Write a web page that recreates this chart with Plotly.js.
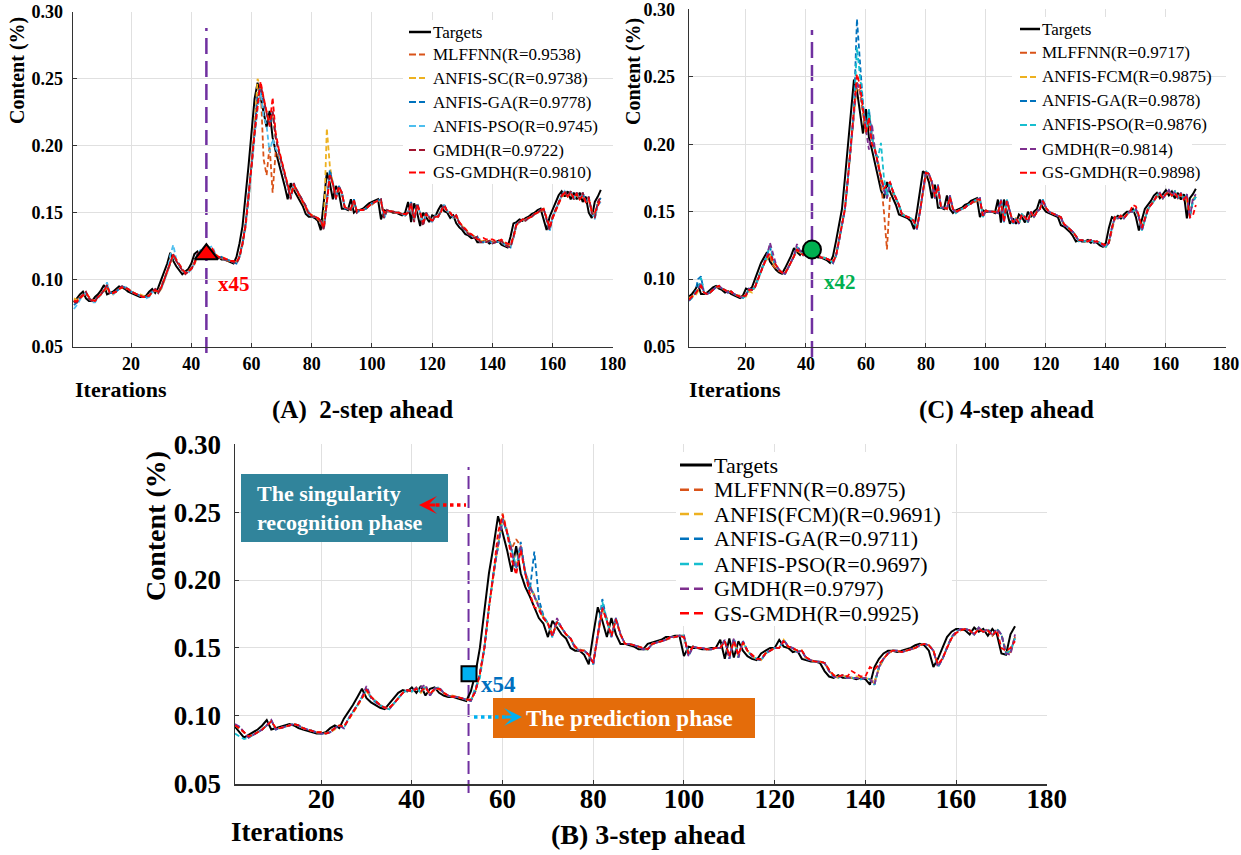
<!DOCTYPE html>
<html><head><meta charset="utf-8">
<script src="https://cdn.plot.ly/plotly-3.0.1.min.js"></script>
<style>html,body{margin:0;padding:0;background:#fff}#chart{width:1241px;height:855px}</style>
</head><body><div id="chart"></div>
<script>
// ---------------- DATA ----------------
const xTicks = [20, 40, 60, 80, 100, 120, 140, 160, 180];
const yTicks = [0.05, 0.10, 0.15, 0.20, 0.25, 0.30];

// (A) 2-step ahead
const namesA = ['Targets','MLFFNN(R=0.9538)','ANFIS-SC(R=0.9738)','ANFIS-GA(R=0.9778)','ANFIS-PSO(R=0.9745)','GMDH(R=0.9722)','GS-GMDH(R=0.9810)'];
const targetsA = [0.083,0.086,0.089,0.091,0.086,0.084,0.084,0.087,0.089,0.092,
0.096,0.089,0.090,0.091,0.093,0.095,0.094,0.093,0.091,0.090,
0.089,0.088,0.087,0.087,0.088,0.091,0.093,0.090,0.094,0.100,
0.106,0.112,0.120,0.114,0.110,0.107,0.104,0.106,0.108,0.112,
0.119,0.121,0.117,0.121,0.119,0.122,0.118,0.116,0.117,0.115,
0.115,0.114,0.113,0.112,0.117,0.127,0.140,0.160,0.185,0.210,
0.235,0.247,0.236,0.226,0.214,0.226,0.206,0.196,0.188,0.179,
0.170,0.160,0.172,0.167,0.163,0.159,0.155,0.149,0.147,0.147,
0.146,0.144,0.137,0.158,0.180,0.172,0.160,0.170,0.165,0.153,
0.153,0.152,0.160,0.150,0.152,0.152,0.153,0.155,0.157,0.158,
0.159,0.160,0.145,0.152,0.151,0.151,0.150,0.150,0.149,0.148,
0.150,0.158,0.143,0.157,0.150,0.140,0.150,0.146,0.143,0.148,
0.147,0.152,0.156,0.151,0.150,0.146,0.148,0.142,0.139,0.137,
0.134,0.133,0.131,0.132,0.128,0.128,0.128,0.129,0.127,0.128,
0.128,0.129,0.126,0.125,0.124,0.132,0.142,0.143,0.145,0.144,
0.146,0.147,0.149,0.150,0.152,0.153,0.145,0.137,0.147,0.152,
0.158,0.163,0.166,0.162,0.166,0.160,0.165,0.160,0.165,0.158,
0.162,0.150,0.146,0.158,0.162,0.167];
const mlffnnA = [0.085,0.083,0.087,0.089,0.090,0.087,0.084,0.085,0.087,0.090,
0.092,0.095,0.090,0.090,0.092,0.093,0.095,0.094,0.092,0.091,
0.090,0.089,0.088,0.088,0.087,0.089,0.091,0.092,0.091,0.095,
0.101,0.107,0.113,0.118,0.114,0.110,0.107,0.105,0.106,0.109,
0.113,0.118,0.121,0.118,0.120,0.120,0.121,0.118,0.116,0.116,
0.115,0.114,0.114,0.113,0.113,0.118,0.128,0.142,0.162,0.188,
0.212,0.240,0.245,0.190,0.178,0.200,0.165,0.195,0.192,0.186,
0.178,0.170,0.162,0.170,0.166,0.162,0.158,0.154,0.149,0.148,
0.147,0.145,0.143,0.138,0.158,0.178,0.171,0.161,0.168,0.164,
0.154,0.153,0.153,0.158,0.151,0.152,0.152,0.153,0.155,0.156,
0.158,0.159,0.159,0.147,0.151,0.151,0.150,0.150,0.150,0.149,
0.148,0.150,0.157,0.145,0.155,0.150,0.142,0.149,0.146,0.144,
0.147,0.147,0.151,0.155,0.151,0.150,0.147,0.147,0.143,0.140,
0.138,0.135,0.133,0.132,0.131,0.129,0.129,0.128,0.129,0.128,
0.128,0.128,0.129,0.127,0.126,0.125,0.131,0.141,0.143,0.145,
0.145,0.146,0.147,0.149,0.150,0.151,0.152,0.146,0.139,0.146,
0.151,0.157,0.162,0.164,0.162,0.165,0.161,0.163,0.160,0.163,
0.158,0.160,0.151,0.148,0.156,0.160];
const anfisScA = [0.086,0.085,0.086,0.088,0.090,0.087,0.085,0.084,0.086,0.089,
0.091,0.095,0.090,0.089,0.091,0.093,0.094,0.094,0.093,0.092,
0.090,0.089,0.089,0.088,0.087,0.088,0.090,0.092,0.090,0.093,
0.099,0.105,0.111,0.118,0.115,0.111,0.108,0.105,0.106,0.108,
0.111,0.117,0.120,0.118,0.120,0.119,0.121,0.119,0.117,0.117,
0.116,0.115,0.114,0.114,0.113,0.116,0.126,0.139,0.158,0.184,
0.212,0.250,0.244,0.234,0.225,0.216,0.224,0.207,0.197,0.189,
0.180,0.171,0.162,0.171,0.167,0.163,0.159,0.155,0.150,0.148,
0.147,0.146,0.144,0.139,0.213,0.185,0.172,0.161,0.169,0.164,
0.154,0.153,0.152,0.159,0.151,0.152,0.152,0.153,0.155,0.157,
0.158,0.159,0.159,0.146,0.152,0.151,0.151,0.150,0.150,0.149,
0.148,0.150,0.157,0.144,0.156,0.150,0.141,0.150,0.146,0.144,
0.148,0.147,0.152,0.155,0.151,0.150,0.146,0.148,0.142,0.140,
0.138,0.135,0.134,0.132,0.131,0.129,0.129,0.129,0.129,0.128,
0.128,0.128,0.129,0.127,0.126,0.125,0.132,0.141,0.143,0.145,
0.144,0.146,0.147,0.149,0.150,0.152,0.153,0.145,0.138,0.147,
0.152,0.157,0.162,0.165,0.162,0.165,0.160,0.164,0.160,0.164,
0.158,0.161,0.151,0.147,0.157,0.161];
const anfisGaA = [0.081,0.083,0.086,0.089,0.090,0.086,0.084,0.085,0.087,0.089,
0.092,0.096,0.090,0.090,0.091,0.093,0.095,0.094,0.093,0.091,
0.090,0.089,0.088,0.087,0.087,0.088,0.091,0.093,0.090,0.094,
0.100,0.106,0.113,0.118,0.114,0.110,0.107,0.105,0.106,0.108,
0.112,0.119,0.121,0.117,0.122,0.119,0.122,0.118,0.116,0.117,
0.115,0.115,0.114,0.113,0.112,0.117,0.127,0.141,0.161,0.186,
0.211,0.238,0.243,0.232,0.224,0.215,0.225,0.207,0.196,0.188,
0.179,0.170,0.161,0.172,0.167,0.163,0.159,0.155,0.149,0.147,
0.147,0.146,0.144,0.138,0.160,0.182,0.172,0.160,0.170,0.165,
0.153,0.153,0.152,0.160,0.150,0.152,0.152,0.153,0.155,0.157,
0.158,0.159,0.160,0.146,0.152,0.151,0.151,0.150,0.150,0.149,
0.148,0.150,0.158,0.144,0.157,0.150,0.141,0.150,0.146,0.143,
0.148,0.147,0.152,0.156,0.151,0.150,0.146,0.148,0.142,0.139,
0.137,0.134,0.133,0.131,0.132,0.128,0.128,0.128,0.129,0.127,
0.128,0.128,0.129,0.126,0.125,0.124,0.133,0.142,0.143,0.145,
0.144,0.146,0.147,0.149,0.150,0.152,0.153,0.145,0.137,0.147,
0.152,0.158,0.163,0.166,0.162,0.166,0.160,0.165,0.160,0.165,
0.158,0.162,0.150,0.146,0.158,0.161];
const anfisPsoA = [0.078,0.081,0.085,0.088,0.090,0.086,0.083,0.083,0.086,0.089,
0.092,0.098,0.090,0.089,0.091,0.093,0.095,0.095,0.093,0.091,
0.090,0.089,0.088,0.087,0.086,0.087,0.090,0.093,0.090,0.093,
0.099,0.105,0.118,0.126,0.115,0.111,0.108,0.105,0.105,0.108,
0.112,0.120,0.122,0.118,0.121,0.124,0.125,0.119,0.116,0.117,
0.115,0.115,0.114,0.113,0.112,0.116,0.126,0.139,0.158,0.183,
0.208,0.228,0.240,0.222,0.215,0.195,0.205,0.198,0.194,0.187,
0.178,0.170,0.161,0.171,0.167,0.163,0.159,0.155,0.150,0.147,
0.147,0.146,0.144,0.138,0.157,0.178,0.173,0.161,0.169,0.165,
0.154,0.153,0.152,0.159,0.151,0.152,0.152,0.153,0.155,0.157,
0.158,0.159,0.159,0.146,0.151,0.151,0.151,0.150,0.150,0.149,
0.148,0.150,0.157,0.144,0.156,0.150,0.141,0.150,0.147,0.143,
0.148,0.147,0.152,0.156,0.151,0.150,0.146,0.148,0.142,0.139,
0.137,0.134,0.133,0.131,0.132,0.128,0.128,0.128,0.129,0.127,
0.128,0.128,0.129,0.126,0.125,0.124,0.131,0.141,0.143,0.145,
0.144,0.146,0.147,0.149,0.150,0.152,0.153,0.145,0.136,0.146,
0.152,0.158,0.163,0.166,0.162,0.166,0.160,0.165,0.160,0.164,
0.158,0.161,0.150,0.145,0.156,0.158];
const gmdhA = [0.083,0.083,0.086,0.089,0.091,0.086,0.084,0.084,0.087,0.089,
0.092,0.096,0.089,0.090,0.091,0.093,0.095,0.094,0.093,0.091,
0.090,0.089,0.088,0.087,0.087,0.088,0.091,0.093,0.090,0.094,
0.100,0.106,0.112,0.119,0.114,0.110,0.107,0.104,0.106,0.108,
0.112,0.119,0.121,0.117,0.121,0.121,0.122,0.118,0.116,0.117,
0.115,0.115,0.114,0.113,0.112,0.117,0.127,0.140,0.160,0.185,
0.210,0.232,0.246,0.236,0.226,0.214,0.226,0.206,0.196,0.188,
0.179,0.170,0.160,0.172,0.167,0.163,0.159,0.155,0.149,0.147,
0.147,0.146,0.144,0.137,0.158,0.179,0.172,0.160,0.170,0.165,
0.153,0.153,0.152,0.160,0.150,0.152,0.152,0.153,0.155,0.157,
0.158,0.159,0.160,0.146,0.152,0.151,0.151,0.150,0.150,0.149,
0.148,0.150,0.158,0.143,0.157,0.150,0.140,0.150,0.146,0.143,
0.148,0.147,0.152,0.156,0.151,0.150,0.146,0.148,0.142,0.139,
0.137,0.134,0.133,0.131,0.132,0.128,0.128,0.128,0.129,0.127,
0.128,0.128,0.129,0.126,0.125,0.124,0.132,0.142,0.143,0.145,
0.144,0.146,0.147,0.149,0.150,0.152,0.153,0.145,0.137,0.147,
0.152,0.158,0.163,0.166,0.162,0.166,0.160,0.165,0.160,0.165,
0.158,0.162,0.150,0.146,0.158,0.162];
const gsGmdhA = [0.084,0.084,0.086,0.088,0.090,0.087,0.085,0.084,0.087,0.089,
0.092,0.095,0.090,0.090,0.091,0.093,0.094,0.094,0.093,0.091,
0.090,0.089,0.088,0.087,0.087,0.088,0.091,0.092,0.091,0.094,
0.100,0.106,0.112,0.119,0.115,0.111,0.108,0.105,0.106,0.108,
0.112,0.118,0.121,0.118,0.121,0.120,0.123,0.119,0.117,0.117,
0.116,0.115,0.114,0.114,0.113,0.117,0.127,0.140,0.160,0.185,
0.209,0.228,0.248,0.236,0.226,0.215,0.236,0.210,0.198,0.189,
0.180,0.171,0.162,0.171,0.167,0.163,0.159,0.155,0.150,0.148,
0.147,0.146,0.144,0.139,0.157,0.178,0.172,0.161,0.169,0.165,
0.154,0.153,0.153,0.159,0.151,0.152,0.152,0.153,0.155,0.157,
0.158,0.159,0.158,0.150,0.152,0.151,0.151,0.150,0.150,0.149,
0.149,0.150,0.156,0.146,0.155,0.150,0.143,0.149,0.146,0.144,
0.147,0.147,0.151,0.155,0.151,0.150,0.147,0.148,0.143,0.140,
0.138,0.135,0.134,0.132,0.130,0.130,0.131,0.130,0.130,0.130,
0.129,0.129,0.130,0.128,0.127,0.126,0.132,0.141,0.143,0.145,
0.145,0.146,0.147,0.149,0.150,0.152,0.153,0.146,0.139,0.146,
0.151,0.157,0.162,0.165,0.162,0.165,0.161,0.164,0.160,0.163,
0.158,0.160,0.151,0.150,0.155,0.160];
const markerAX = [45], markerAY = [0.119];

// (C) 4-step ahead
const namesC = ['Targets','MLFFNN(R=0.9717)','ANFIS-FCM(R=0.9875)','ANFIS-GA(R=0.9878)','ANFIS-PSO(R=0.9876)','GMDH(R=0.9814)','GS-GMDH(R=0.9898)'];
const targetsC = [0.087,0.089,0.092,0.096,0.089,0.089,0.090,0.092,0.094,0.095,
0.093,0.092,0.090,0.091,0.089,0.088,0.087,0.086,0.088,0.093,
0.092,0.094,0.100,0.106,0.112,0.116,0.120,0.113,0.110,0.107,
0.105,0.104,0.108,0.112,0.117,0.123,0.120,0.118,0.122,0.120,
0.119,0.121,0.118,0.116,0.116,0.115,0.114,0.112,0.117,0.128,
0.140,0.152,0.175,0.200,0.225,0.248,0.240,0.225,0.208,0.226,
0.205,0.196,0.185,0.176,0.166,0.160,0.172,0.165,0.160,0.155,
0.148,0.147,0.146,0.145,0.143,0.137,0.150,0.165,0.180,0.178,
0.172,0.160,0.170,0.153,0.153,0.152,0.162,0.152,0.149,0.151,
0.152,0.153,0.155,0.156,0.158,0.159,0.160,0.146,0.151,0.150,
0.150,0.150,0.149,0.159,0.142,0.159,0.150,0.141,0.145,0.141,
0.148,0.146,0.142,0.150,0.146,0.150,0.152,0.159,0.153,0.150,
0.149,0.148,0.147,0.146,0.140,0.139,0.137,0.135,0.132,0.128,
0.129,0.128,0.128,0.129,0.127,0.128,0.127,0.125,0.124,0.127,
0.138,0.146,0.145,0.147,0.145,0.148,0.150,0.150,0.152,0.146,
0.136,0.145,0.152,0.155,0.158,0.162,0.164,0.160,0.163,0.166,
0.162,0.165,0.160,0.164,0.159,0.163,0.145,0.160,0.163,0.167];
const mlffnnC = [0.086,0.087,0.090,0.092,0.095,0.090,0.089,0.090,0.092,0.094,
0.094,0.093,0.092,0.091,0.090,0.089,0.088,0.087,0.087,0.089,
0.092,0.092,0.095,0.101,0.107,0.112,0.115,0.117,0.110,0.108,
0.106,0.105,0.105,0.108,0.112,0.116,0.121,0.120,0.118,0.121,
0.120,0.119,0.120,0.118,0.116,0.116,0.115,0.114,0.113,0.118,
0.129,0.141,0.153,0.176,0.201,0.226,0.246,0.238,0.224,0.208,
0.222,0.205,0.196,0.188,0.172,0.150,0.122,0.160,0.164,0.160,
0.155,0.149,0.147,0.146,0.145,0.143,0.138,0.150,0.164,0.178,
0.177,0.171,0.161,0.168,0.154,0.153,0.152,0.160,0.152,0.150,
0.151,0.152,0.153,0.155,0.156,0.157,0.158,0.159,0.147,0.151,
0.150,0.150,0.150,0.149,0.157,0.144,0.157,0.150,0.142,0.145,
0.142,0.147,0.146,0.143,0.149,0.146,0.150,0.152,0.158,0.153,
0.150,0.149,0.148,0.147,0.146,0.141,0.139,0.137,0.135,0.132,
0.129,0.129,0.128,0.128,0.129,0.127,0.128,0.127,0.126,0.125,
0.127,0.137,0.145,0.145,0.147,0.145,0.148,0.150,0.150,0.151,
0.146,0.138,0.145,0.151,0.155,0.158,0.161,0.163,0.160,0.163,
0.165,0.162,0.164,0.160,0.163,0.159,0.162,0.147,0.158,0.162];
const anfisFcmC = [0.086,0.087,0.087,0.091,0.095,0.090,0.089,0.090,0.092,0.094,
0.095,0.093,0.092,0.090,0.091,0.089,0.088,0.088,0.087,0.087,
0.091,0.090,0.094,0.100,0.106,0.111,0.115,0.119,0.113,0.109,
0.107,0.105,0.104,0.108,0.112,0.117,0.122,0.120,0.118,0.121,
0.120,0.119,0.121,0.118,0.116,0.116,0.115,0.114,0.112,0.117,
0.128,0.140,0.152,0.175,0.200,0.225,0.245,0.240,0.225,0.208,
0.225,0.205,0.196,0.185,0.176,0.167,0.161,0.171,0.165,0.160,
0.155,0.148,0.147,0.146,0.145,0.143,0.138,0.150,0.164,0.179,
0.178,0.171,0.160,0.169,0.154,0.153,0.152,0.161,0.152,0.150,
0.151,0.152,0.153,0.155,0.156,0.158,0.159,0.159,0.147,0.151,
0.150,0.150,0.150,0.149,0.158,0.143,0.158,0.150,0.142,0.145,
0.141,0.148,0.146,0.142,0.149,0.146,0.150,0.152,0.158,0.153,
0.150,0.149,0.148,0.147,0.146,0.140,0.139,0.137,0.135,0.132,
0.128,0.129,0.128,0.128,0.129,0.127,0.128,0.127,0.125,0.124,
0.127,0.137,0.146,0.145,0.147,0.145,0.148,0.150,0.150,0.152,
0.146,0.137,0.145,0.152,0.155,0.158,0.162,0.164,0.160,0.163,
0.166,0.162,0.165,0.160,0.164,0.159,0.158,0.147,0.159,0.162];
const anfisGaC = [0.084,0.087,0.089,0.100,0.102,0.090,0.089,0.090,0.092,0.094,
0.095,0.093,0.092,0.090,0.091,0.089,0.088,0.087,0.086,0.088,
0.093,0.092,0.094,0.100,0.106,0.112,0.117,0.124,0.114,0.110,
0.107,0.105,0.104,0.108,0.112,0.117,0.124,0.121,0.118,0.122,
0.120,0.119,0.121,0.118,0.116,0.116,0.115,0.114,0.112,0.117,
0.128,0.140,0.152,0.175,0.200,0.225,0.293,0.262,0.230,0.210,
0.226,0.205,0.195,0.185,0.176,0.166,0.160,0.172,0.165,0.160,
0.155,0.148,0.147,0.146,0.145,0.143,0.137,0.150,0.165,0.180,
0.178,0.172,0.160,0.170,0.153,0.153,0.152,0.162,0.152,0.149,
0.151,0.152,0.153,0.155,0.156,0.158,0.159,0.160,0.146,0.151,
0.150,0.150,0.150,0.149,0.159,0.142,0.159,0.150,0.141,0.145,
0.141,0.148,0.146,0.142,0.150,0.146,0.150,0.152,0.159,0.153,
0.150,0.149,0.148,0.147,0.146,0.140,0.139,0.137,0.135,0.132,
0.128,0.129,0.128,0.128,0.129,0.127,0.128,0.127,0.125,0.124,
0.127,0.138,0.146,0.145,0.147,0.145,0.148,0.150,0.150,0.152,
0.146,0.136,0.145,0.152,0.155,0.158,0.162,0.164,0.160,0.163,
0.166,0.162,0.165,0.160,0.164,0.159,0.163,0.146,0.158,0.161];
const anfisPsoC = [0.084,0.086,0.089,0.093,0.101,0.090,0.089,0.090,0.092,0.094,
0.095,0.093,0.092,0.090,0.091,0.089,0.088,0.087,0.086,0.088,
0.093,0.092,0.094,0.100,0.106,0.112,0.117,0.126,0.115,0.110,
0.107,0.105,0.104,0.108,0.112,0.117,0.124,0.121,0.118,0.122,
0.120,0.119,0.121,0.118,0.116,0.116,0.115,0.114,0.112,0.117,
0.128,0.140,0.152,0.175,0.200,0.225,0.272,0.250,0.226,0.209,
0.226,0.205,0.196,0.190,0.201,0.175,0.162,0.172,0.165,0.160,
0.155,0.148,0.147,0.146,0.145,0.143,0.137,0.150,0.165,0.180,
0.178,0.172,0.160,0.170,0.153,0.153,0.152,0.162,0.152,0.149,
0.151,0.152,0.153,0.155,0.156,0.158,0.159,0.160,0.146,0.151,
0.150,0.150,0.150,0.149,0.159,0.142,0.159,0.150,0.141,0.145,
0.141,0.148,0.146,0.142,0.150,0.146,0.150,0.152,0.159,0.153,
0.150,0.149,0.148,0.147,0.146,0.140,0.139,0.137,0.135,0.132,
0.128,0.129,0.128,0.128,0.129,0.127,0.128,0.127,0.125,0.124,
0.127,0.138,0.146,0.145,0.147,0.145,0.148,0.150,0.150,0.152,
0.146,0.136,0.145,0.152,0.155,0.158,0.162,0.164,0.160,0.163,
0.166,0.162,0.165,0.160,0.164,0.159,0.163,0.148,0.157,0.161];
const gmdhC = [0.084,0.087,0.089,0.092,0.097,0.090,0.089,0.090,0.092,0.094,
0.095,0.093,0.092,0.090,0.091,0.089,0.088,0.087,0.086,0.088,
0.093,0.092,0.094,0.100,0.106,0.112,0.117,0.127,0.118,0.111,
0.107,0.105,0.104,0.108,0.112,0.117,0.126,0.121,0.118,0.122,
0.120,0.119,0.121,0.118,0.116,0.116,0.115,0.114,0.112,0.117,
0.128,0.140,0.152,0.175,0.200,0.225,0.246,0.240,0.225,0.208,
0.196,0.215,0.196,0.185,0.176,0.166,0.160,0.172,0.165,0.160,
0.155,0.148,0.147,0.146,0.145,0.143,0.137,0.150,0.165,0.180,
0.178,0.172,0.160,0.170,0.153,0.153,0.152,0.162,0.152,0.149,
0.151,0.152,0.153,0.155,0.156,0.158,0.159,0.160,0.146,0.151,
0.150,0.150,0.150,0.149,0.159,0.142,0.159,0.150,0.141,0.145,
0.141,0.148,0.146,0.142,0.150,0.146,0.150,0.152,0.159,0.153,
0.150,0.149,0.148,0.147,0.146,0.140,0.139,0.137,0.135,0.132,
0.128,0.129,0.128,0.128,0.129,0.127,0.128,0.127,0.125,0.124,
0.127,0.138,0.146,0.145,0.147,0.145,0.148,0.150,0.150,0.152,
0.146,0.136,0.145,0.152,0.155,0.158,0.162,0.164,0.160,0.163,
0.166,0.162,0.165,0.160,0.164,0.159,0.163,0.145,0.160,0.163];
const gsGmdhC = [0.085,0.087,0.089,0.092,0.095,0.090,0.089,0.090,0.092,0.094,
0.095,0.093,0.092,0.090,0.091,0.089,0.088,0.087,0.087,0.088,
0.092,0.092,0.094,0.100,0.106,0.111,0.116,0.119,0.114,0.110,
0.107,0.105,0.104,0.108,0.112,0.117,0.122,0.120,0.118,0.121,
0.120,0.119,0.121,0.118,0.116,0.116,0.115,0.114,0.113,0.117,
0.128,0.140,0.152,0.175,0.200,0.225,0.252,0.244,0.226,0.209,
0.220,0.200,0.196,0.185,0.176,0.167,0.170,0.172,0.165,0.160,
0.155,0.148,0.147,0.146,0.145,0.143,0.138,0.150,0.164,0.179,
0.178,0.172,0.161,0.169,0.154,0.153,0.152,0.161,0.152,0.150,
0.151,0.152,0.153,0.155,0.156,0.158,0.159,0.159,0.147,0.151,
0.150,0.150,0.150,0.149,0.158,0.143,0.158,0.150,0.142,0.145,
0.142,0.148,0.146,0.143,0.150,0.146,0.150,0.152,0.158,0.153,
0.150,0.149,0.148,0.147,0.146,0.141,0.139,0.137,0.135,0.132,
0.129,0.129,0.128,0.128,0.129,0.128,0.128,0.127,0.126,0.125,
0.127,0.138,0.146,0.145,0.147,0.145,0.148,0.150,0.155,0.154,
0.147,0.138,0.145,0.152,0.155,0.158,0.162,0.163,0.160,0.163,
0.165,0.162,0.164,0.160,0.163,0.159,0.162,0.146,0.147,0.155];
const markerCX = [42], markerCY = [0.122];

// (B) 3-step ahead
const namesB = ['Targets','MLFFNN(R=0.8975)','ANFIS(FCM)(R=0.9691)','ANFIS-GA(R=0.9711)','ANFIS-PSO(R=0.9697)','GMDH(R=0.9797)','GS-GMDH(R=0.9925)'];
const targetsB = [0.092,0.088,0.084,0.086,0.088,0.090,0.093,0.097,0.090,0.091,
0.092,0.093,0.094,0.093,0.091,0.090,0.089,0.088,0.087,0.087,
0.088,0.091,0.093,0.091,0.098,0.103,0.108,0.114,0.120,0.113,
0.110,0.108,0.106,0.105,0.109,0.113,0.117,0.119,0.118,0.121,
0.117,0.122,0.115,0.120,0.121,0.117,0.115,0.114,0.114,0.113,
0.112,0.111,0.118,0.131,0.150,0.180,0.205,0.225,0.247,0.235,
0.222,0.206,0.225,0.205,0.195,0.188,0.180,0.172,0.168,0.158,
0.170,0.165,0.160,0.157,0.150,0.148,0.148,0.145,0.138,0.160,
0.180,0.170,0.158,0.172,0.160,0.153,0.153,0.152,0.151,0.149,
0.149,0.153,0.154,0.155,0.156,0.158,0.158,0.159,0.159,0.144,
0.151,0.150,0.150,0.149,0.149,0.150,0.150,0.156,0.142,0.157,
0.143,0.155,0.148,0.144,0.142,0.141,0.146,0.148,0.150,0.150,
0.156,0.151,0.150,0.147,0.148,0.142,0.141,0.140,0.140,0.139,
0.133,0.129,0.128,0.130,0.128,0.128,0.128,0.127,0.128,0.127,
0.123,0.136,0.142,0.146,0.148,0.148,0.147,0.148,0.149,0.150,
0.152,0.153,0.152,0.148,0.136,0.142,0.150,0.158,0.162,0.164,
0.164,0.163,0.160,0.165,0.162,0.164,0.159,0.164,0.160,0.146,
0.145,0.160,0.166];
const mlffnnB = [0.093,0.091,0.088,0.085,0.086,0.088,0.090,0.093,0.096,0.091,
0.091,0.092,0.093,0.094,0.093,0.091,0.090,0.089,0.088,0.088,
0.087,0.089,0.091,0.093,0.092,0.098,0.103,0.108,0.114,0.119,
0.114,0.111,0.108,0.106,0.106,0.109,0.113,0.117,0.119,0.118,
0.120,0.118,0.121,0.116,0.119,0.120,0.117,0.115,0.115,0.114,
0.113,0.112,0.112,0.118,0.131,0.151,0.180,0.205,0.226,0.249,
0.236,0.223,0.230,0.225,0.206,0.196,0.189,0.181,0.173,0.168,
0.160,0.169,0.165,0.160,0.157,0.151,0.149,0.148,0.145,0.139,
0.160,0.178,0.172,0.160,0.170,0.160,0.153,0.153,0.152,0.151,
0.150,0.149,0.153,0.154,0.155,0.156,0.157,0.158,0.159,0.158,
0.146,0.151,0.150,0.150,0.149,0.149,0.150,0.150,0.155,0.144,
0.155,0.145,0.154,0.148,0.145,0.142,0.142,0.146,0.148,0.150,
0.150,0.155,0.151,0.150,0.148,0.148,0.143,0.141,0.140,0.140,
0.139,0.134,0.130,0.129,0.130,0.129,0.128,0.128,0.128,0.128,
0.127,0.125,0.135,0.142,0.146,0.148,0.148,0.147,0.148,0.149,
0.150,0.152,0.153,0.152,0.148,0.138,0.142,0.150,0.157,0.161,
0.163,0.164,0.163,0.160,0.164,0.162,0.163,0.159,0.163,0.160,
0.148,0.147,0.158];
const anfisFcmB = [0.093,0.091,0.088,0.085,0.086,0.088,0.090,0.093,0.096,0.091,
0.091,0.092,0.093,0.094,0.093,0.091,0.090,0.089,0.088,0.088,
0.087,0.088,0.090,0.093,0.092,0.097,0.102,0.107,0.113,0.118,
0.114,0.111,0.108,0.106,0.105,0.109,0.113,0.117,0.119,0.118,
0.121,0.117,0.121,0.116,0.120,0.120,0.117,0.115,0.114,0.114,
0.113,0.112,0.111,0.118,0.130,0.150,0.180,0.205,0.225,0.246,
0.235,0.222,0.212,0.224,0.205,0.195,0.188,0.180,0.172,0.168,
0.159,0.169,0.165,0.160,0.157,0.150,0.148,0.148,0.145,0.139,
0.160,0.179,0.170,0.158,0.171,0.160,0.153,0.153,0.152,0.151,
0.149,0.149,0.153,0.154,0.155,0.156,0.158,0.158,0.159,0.159,
0.145,0.151,0.150,0.150,0.149,0.149,0.150,0.150,0.156,0.143,
0.156,0.144,0.154,0.148,0.144,0.142,0.141,0.146,0.148,0.150,
0.150,0.156,0.151,0.150,0.147,0.148,0.142,0.141,0.140,0.140,
0.139,0.133,0.130,0.128,0.130,0.128,0.128,0.129,0.128,0.128,
0.127,0.124,0.136,0.142,0.146,0.148,0.148,0.147,0.148,0.149,
0.150,0.152,0.153,0.152,0.148,0.137,0.142,0.150,0.158,0.162,
0.164,0.164,0.163,0.160,0.165,0.162,0.164,0.159,0.164,0.160,
0.147,0.146,0.159];
const anfisGaB = [0.093,0.092,0.088,0.084,0.086,0.088,0.090,0.093,0.097,0.090,
0.091,0.092,0.093,0.094,0.093,0.091,0.090,0.089,0.088,0.087,
0.087,0.088,0.091,0.093,0.091,0.098,0.103,0.108,0.114,0.120,
0.113,0.110,0.108,0.106,0.105,0.109,0.113,0.117,0.119,0.118,
0.121,0.117,0.122,0.115,0.120,0.121,0.117,0.115,0.114,0.114,
0.113,0.112,0.111,0.118,0.131,0.150,0.180,0.205,0.225,0.245,
0.235,0.222,0.208,0.228,0.205,0.192,0.221,0.186,0.174,0.168,
0.158,0.170,0.165,0.160,0.157,0.150,0.148,0.148,0.145,0.138,
0.160,0.186,0.170,0.158,0.172,0.160,0.153,0.153,0.152,0.151,
0.149,0.149,0.153,0.154,0.155,0.156,0.158,0.158,0.159,0.159,
0.144,0.151,0.150,0.150,0.149,0.149,0.150,0.150,0.156,0.142,
0.157,0.143,0.155,0.148,0.144,0.142,0.141,0.146,0.148,0.150,
0.150,0.156,0.151,0.150,0.147,0.148,0.142,0.141,0.140,0.140,
0.139,0.133,0.129,0.128,0.130,0.128,0.128,0.128,0.127,0.128,
0.127,0.123,0.136,0.142,0.146,0.148,0.148,0.147,0.148,0.149,
0.150,0.152,0.153,0.152,0.148,0.136,0.142,0.150,0.158,0.162,
0.164,0.164,0.163,0.160,0.165,0.162,0.164,0.159,0.164,0.160,
0.146,0.147,0.158];
const anfisPsoB = [0.087,0.085,0.083,0.084,0.086,0.088,0.090,0.093,0.096,0.090,
0.091,0.092,0.093,0.094,0.093,0.091,0.090,0.089,0.088,0.087,
0.087,0.088,0.091,0.093,0.091,0.098,0.103,0.108,0.114,0.119,
0.114,0.111,0.108,0.106,0.105,0.109,0.113,0.117,0.119,0.118,
0.121,0.117,0.122,0.115,0.120,0.121,0.117,0.115,0.114,0.114,
0.113,0.112,0.111,0.121,0.128,0.150,0.180,0.205,0.225,0.244,
0.235,0.222,0.210,0.224,0.206,0.196,0.189,0.181,0.173,0.168,
0.158,0.170,0.165,0.160,0.157,0.150,0.148,0.148,0.145,0.138,
0.160,0.184,0.170,0.158,0.172,0.160,0.153,0.153,0.152,0.151,
0.149,0.149,0.153,0.154,0.155,0.156,0.158,0.158,0.159,0.159,
0.145,0.151,0.150,0.150,0.149,0.149,0.150,0.150,0.156,0.142,
0.157,0.143,0.155,0.148,0.144,0.142,0.141,0.146,0.148,0.150,
0.150,0.156,0.151,0.150,0.147,0.148,0.142,0.141,0.140,0.140,
0.139,0.133,0.129,0.128,0.130,0.128,0.128,0.128,0.127,0.128,
0.127,0.123,0.136,0.142,0.146,0.148,0.148,0.147,0.148,0.149,
0.150,0.152,0.153,0.152,0.148,0.136,0.142,0.150,0.158,0.162,
0.164,0.164,0.163,0.160,0.165,0.162,0.164,0.159,0.163,0.160,
0.146,0.148,0.157];
const gmdhB = [0.094,0.092,0.088,0.084,0.086,0.088,0.090,0.093,0.097,0.090,
0.091,0.092,0.093,0.094,0.093,0.091,0.090,0.089,0.088,0.087,
0.087,0.088,0.091,0.093,0.091,0.098,0.103,0.108,0.114,0.122,
0.114,0.110,0.108,0.106,0.105,0.109,0.113,0.117,0.119,0.118,
0.121,0.121,0.123,0.115,0.120,0.121,0.117,0.115,0.114,0.114,
0.113,0.112,0.111,0.118,0.131,0.150,0.180,0.205,0.225,0.245,
0.235,0.222,0.206,0.225,0.205,0.195,0.188,0.180,0.172,0.168,
0.158,0.172,0.165,0.160,0.157,0.150,0.148,0.148,0.145,0.138,
0.160,0.180,0.170,0.158,0.172,0.160,0.153,0.153,0.152,0.151,
0.149,0.149,0.153,0.154,0.155,0.156,0.158,0.158,0.159,0.159,
0.144,0.151,0.150,0.150,0.149,0.149,0.150,0.150,0.156,0.142,
0.157,0.143,0.155,0.148,0.144,0.142,0.141,0.146,0.148,0.150,
0.150,0.156,0.151,0.150,0.147,0.148,0.142,0.141,0.140,0.140,
0.139,0.133,0.129,0.128,0.130,0.128,0.128,0.128,0.127,0.128,
0.127,0.123,0.136,0.142,0.146,0.148,0.148,0.147,0.148,0.149,
0.150,0.152,0.153,0.152,0.148,0.136,0.142,0.150,0.158,0.162,
0.164,0.164,0.163,0.160,0.165,0.162,0.164,0.159,0.164,0.160,
0.146,0.145,0.160];
const gsGmdhB = [0.093,0.091,0.088,0.085,0.086,0.088,0.090,0.093,0.096,0.091,
0.091,0.092,0.093,0.094,0.093,0.091,0.090,0.089,0.088,0.088,
0.087,0.088,0.091,0.093,0.092,0.097,0.103,0.108,0.113,0.119,
0.114,0.111,0.108,0.106,0.106,0.109,0.113,0.117,0.119,0.118,
0.120,0.118,0.121,0.116,0.120,0.120,0.117,0.115,0.114,0.114,
0.113,0.112,0.112,0.118,0.131,0.150,0.180,0.205,0.235,0.248,
0.235,0.215,0.204,0.222,0.205,0.190,0.180,0.178,0.172,0.168,
0.159,0.169,0.165,0.160,0.157,0.151,0.148,0.148,0.145,0.139,
0.160,0.179,0.170,0.159,0.171,0.160,0.153,0.153,0.152,0.151,
0.150,0.149,0.153,0.154,0.155,0.156,0.158,0.158,0.159,0.158,
0.146,0.151,0.150,0.150,0.149,0.149,0.150,0.150,0.155,0.144,
0.155,0.145,0.154,0.148,0.145,0.142,0.142,0.146,0.148,0.150,
0.150,0.155,0.151,0.150,0.148,0.148,0.143,0.141,0.140,0.140,
0.139,0.134,0.130,0.129,0.130,0.129,0.133,0.131,0.129,0.129,
0.136,0.134,0.138,0.142,0.146,0.148,0.148,0.147,0.148,0.149,
0.150,0.152,0.153,0.152,0.148,0.138,0.142,0.150,0.157,0.161,
0.163,0.164,0.163,0.160,0.164,0.162,0.163,0.159,0.163,0.150,
0.148,0.150,0.155];
const markerBX = [52.6], markerBY = [0.131];

// ---------------- STYLE ----------------
const colorsA = ['#000000','#D95319','#EDB120','#0072BD','#4DBEEE','#A2142F','#FF0000'];
const colorsBC = ['#000000','#D95319','#EDB120','#0072BD','#17BECF','#7E2F8E','#FF0000'];
const SERIF = 'Liberation Serif';
const W = 1241, H = 855;
const px = v => v / W, py = v => 1 - v / H;

function panelTraces(series, names, colors, xa, ya) {
  return series.map((s, k) => ({
    type: 'scatter', mode: 'lines', name: names[k], showlegend: false,
    x: s.map((_, j) => j + 1), y: s, xaxis: xa, yaxis: ya,
    line: {color: colors[k], width: k === 0 ? 2 : 1.8, dash: k === 0 ? 'solid' : '5px,3px'},
    hoverinfo: 'skip'
  }));
}

const traces = [].concat(
  panelTraces([targetsA, mlffnnA, anfisScA, anfisGaA, anfisPsoA, gmdhA, gsGmdhA], namesA, colorsA, 'x', 'y'),
  panelTraces([targetsC, mlffnnC, anfisFcmC, anfisGaC, anfisPsoC, gmdhC, gsGmdhC], namesC, colorsBC, 'x2', 'y2'),
  panelTraces([targetsB, mlffnnB, anfisFcmB, anfisGaB, anfisPsoB, gmdhB, gsGmdhB], namesB, colorsBC, 'x3', 'y3'),
  [
    {type:'scatter', mode:'markers', x: markerAX, y: markerAY, xaxis:'x', yaxis:'y', showlegend:false, cliponaxis:false,
     marker:{symbol:'triangle-up', size:20, color:'#FF0000', line:{color:'#000', width:2}}},
    {type:'scatter', mode:'markers', x: markerCX, y: markerCY, xaxis:'x2', yaxis:'y2', showlegend:false, cliponaxis:false,
     marker:{symbol:'circle', size:18, color:'#00B050', line:{color:'#000', width:2}}},
    {type:'scatter', mode:'markers', x: markerBX, y: markerBY, xaxis:'x3', yaxis:'y3', showlegend:false, cliponaxis:false,
     marker:{symbol:'square', size:15, color:'#00B0F0', line:{color:'#000', width:2}}}
  ]
);

function axis(d0, d1, range, anchor, font, standoff, vals, fmt) {
  return {domain: d0 < d1 ? [d0, d1] : [d1, d0], range, anchor, tickvals: vals, tickformat: fmt,
    ticks: 'inside', ticklen: 4, tickcolor: '#333', showline: true, linecolor: '#333', linewidth: 1.5,
    showgrid: true, gridcolor: '#e0e0e0', gridwidth: 1, zeroline: false, tickfont: font,
    ticklabelstandoff: standoff, ticklabeloverflow: 'allow', fixedrange: true};
}
const tfS = {family: SERIF, size: 18, color: '#000', weight: 'bold'};
const tfL = {family: SERIF, size: 27, color: '#000', weight: 'bold'};
const yRange = [0.0499, 0.3001];

const shapes = [];
const annotations = [];
// vertical phase lines
shapes.push({type:'line', xref:'x', yref:'paper', x0:45, x1:45, y0:py(353), y1:py(28), layer:'below',
  line:{color:'#7030A0', width:2.5, dash:'16px,7px'}});
shapes.push({type:'line', xref:'x2', yref:'paper', x0:42, x1:42, y0:py(357), y1:py(30), layer:'below',
  line:{color:'#7030A0', width:2.5, dash:'16px,7px'}});
shapes.push({type:'line', xref:'x3', yref:'paper', x0:52.5, x1:52.5, y0:py(793), y1:py(467), layer:'below',
  line:{color:'#7030A0', width:2, dash:'13px,6px'}});

// legends (manual, to match compact MATLAB legend)
function legend(names, colors, box, lineX0, lineX1, tgtX1, textX, rows, fsize, dash, lw) {
  shapes.push({type:'rect', xref:'paper', yref:'paper', x0:px(box[0]), x1:px(box[1]), y0:py(box[3]), y1:py(box[2]),
    fillcolor:'#fff', line:{width:0}, layer:'above'});
  names.forEach((n, k) => {
    const yy = py(rows[k]);
    shapes.push({type:'line', xref:'paper', yref:'paper', x0:px(lineX0), x1:px(k === 0 ? tgtX1 : lineX1), y0:yy, y1:yy,
      layer:'above', line:{color: colors[k], width: k === 0 ? lw + 0.5 : lw, dash: k === 0 ? 'solid' : dash}});
    annotations.push({xref:'paper', yref:'paper', x:px(textX), y:yy, xanchor:'left', yanchor:'middle', showarrow:false,
      text:n, font:{family:SERIF, size:fsize, color:'#000'}});
  });
}
legend(namesA, colorsA, [403, 580, 20, 184], 409, 425, 431, 431, [32, 54.5, 78, 102, 126, 150, 172.5], 17, '7px,3px', 2);
legend(namesC, colorsBC, [1012, 1192, 17, 185], 1020, 1036, 1040, 1040, [29, 52.7, 77, 101, 125, 149, 172.7], 17, '7px,3px', 2);
legend(namesB, colorsBC, [676, 952, 452, 626], 680, 703, 712, 712, [465, 489.7, 514, 538.7, 564, 588.7, 613.3], 22, '9px,5px', 2.5);

// marker labels
annotations.push({xref:'x', yref:'y', x:54.2, y:0.097, text:'x45', showarrow:false,
  font:{family:SERIF, size:21, color:'#FF0000', weight:'bold'}});
annotations.push({xref:'x2', yref:'y2', x:51.3, y:0.098, text:'x42', showarrow:false,
  font:{family:SERIF, size:21, color:'#00B050', weight:'bold'}});
annotations.push({xref:'x3', yref:'y3', x:59.1, y:0.123, text:'x54', showarrow:false,
  font:{family:SERIF, size:23, color:'#0070C0', weight:'bold'}});

// axis labels and titles
function txt(x, y, t, size, opts) {
  annotations.push(Object.assign({xref:'paper', yref:'paper', x:px(x), y:py(y), text:t, showarrow:false,
    xanchor:'center', yanchor:'middle', font:{family:SERIF, size, color:'#000', weight:'bold'}}, opts || {}));
}
txt(18, 71, 'Content (%)', 20, {textangle:-90});
txt(633, 72, 'Content (%)', 20, {textangle:-90});
txt(155, 526, 'Content (%)', 28, {textangle:-90});
txt(73, 389, 'Iterations', 22, {xanchor:'left'});
txt(687, 389, 'Iterations', 22, {xanchor:'left'});
txt(229, 832, 'Iterations', 27, {xanchor:'left'});
txt(362, 410, '(A) \u00A02-step ahead', 25);
txt(1006, 410, '(C) 4-step ahead', 25);
txt(648, 834, '(B) 3-step ahead', 28);

// phase boxes (B)
shapes.push({type:'rect', xref:'paper', yref:'paper', x0:px(241), x1:px(448), y0:py(542), y1:py(474),
  fillcolor:'#31849B', line:{width:0}, layer:'above'});
shapes.push({type:'rect', xref:'paper', yref:'paper', x0:px(493), x1:px(755), y0:py(738), y1:py(698),
  fillcolor:'#E46C0A', line:{width:0}, layer:'above'});
annotations.push({xref:'paper', yref:'paper', x:px(255), y:py(508), xanchor:'left', yanchor:'middle', align:'left',
  showarrow:false, text:'The singularity<br>recognition phase', font:{family:SERIF, size:22, color:'#fff', weight:'bold'}});
annotations.push({xref:'paper', yref:'paper', x:px(524), y:py(718), xanchor:'left', yanchor:'middle',
  showarrow:false, text:'The prediction phase', font:{family:SERIF, size:23, color:'#fff', weight:'bold'}});
// dotted arrows
shapes.push({type:'line', xref:'paper', yref:'paper', x0:px(436), x1:px(466), y0:py(505), y1:py(505), layer:'above',
  line:{color:'#FF0000', width:3.5, dash:'dot'}});
shapes.push({type:'line', xref:'paper', yref:'paper', x0:px(474), x1:px(506), y0:py(717), y1:py(717), layer:'above',
  line:{color:'#00B0F0', width:3.5, dash:'dot'}});
annotations.push({xref:'paper', yref:'paper', x:px(419), y:py(505), ax:18, ay:0, text:'', showarrow:true,
  arrowhead:3, arrowsize:1, arrowwidth:3, arrowcolor:'#FF0000'});
annotations.push({xref:'paper', yref:'paper', x:px(522), y:py(717), ax:-18, ay:0, text:'', showarrow:true,
  arrowhead:3, arrowsize:1, arrowwidth:3, arrowcolor:'#00B0F0'});

const layout = {
  width: W, height: H, margin: {l:0, r:0, t:0, b:0},
  paper_bgcolor: '#fff', plot_bgcolor: 'rgba(0,0,0,0)', showlegend: false,
  font: {family: SERIF, color: '#000'},
  xaxis:  axis(px(73), px(613), [0.7, 180.05], 'y', tfS, 0, xTicks),
  yaxis:  axis(py(346.7), py(11.7), yRange, 'x', tfS, 5, yTicks, '.2f'),
  xaxis2: axis(px(689), px(1226), [1, 180.05], 'y2', tfS, 0, xTicks),
  yaxis2: axis(py(346.7), py(9.3), yRange, 'x2', tfS, 9, yTicks, '.2f'),
  xaxis3: axis(px(235), px(1047), [1, 180.05], 'y3', tfL, -10, xTicks),
  yaxis3: axis(py(784), py(444), yRange, 'x3', tfL, 7, yTicks, '.2f'),
  shapes, annotations
};

Plotly.newPlot('chart', traces, layout, {displayModeBar: false, staticPlot: true});
</script></body></html>
